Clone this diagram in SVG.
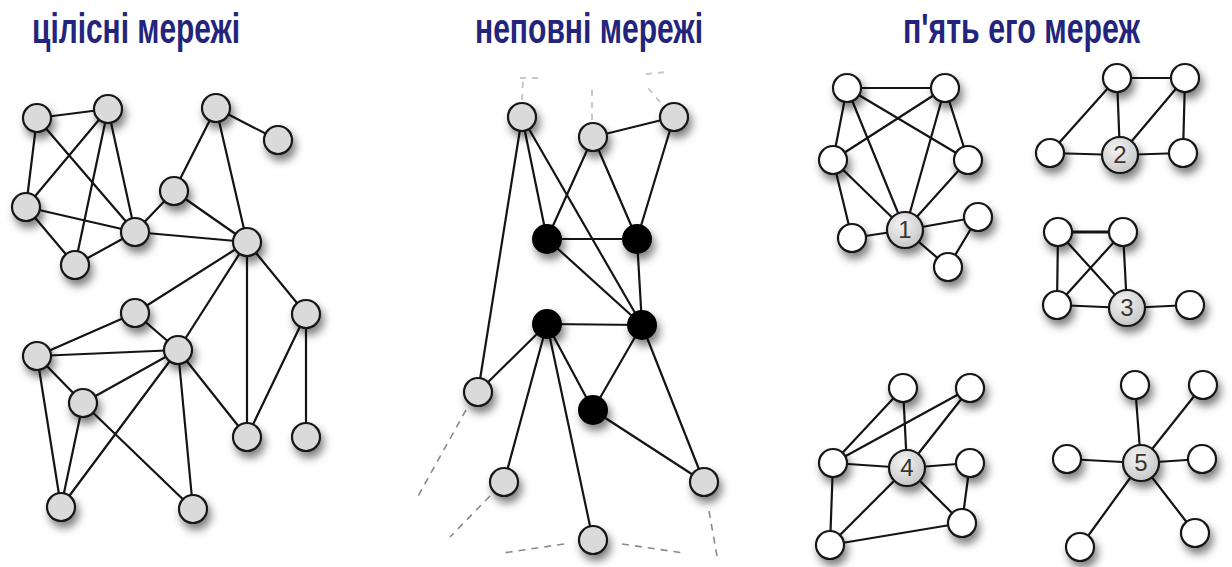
<svg xmlns="http://www.w3.org/2000/svg" width="1232" height="567" viewBox="0 0 1232 567">
<style>
.t{font-family:"Liberation Sans",Arial,sans-serif;font-weight:bold;font-size:42px;fill:#23247c}
.e line{stroke:#141414;stroke-width:2.2;stroke-linecap:round}
.d line{stroke:#8a8a8a;stroke-width:1.6;stroke-dasharray:7 6}
.f line{stroke:#c8c8c8;stroke-width:2;stroke-dasharray:6 6}
.g{fill:#dadada;stroke:#151515;stroke-width:2.2;filter:url(#sh)}
.b{fill:#000;stroke:#000;stroke-width:2;filter:url(#sh)}
.w{fill:#fff;stroke:#151515;stroke-width:2.2;filter:url(#sh)}
.h{fill:url(#hg);stroke:#151515;stroke-width:2.2;filter:url(#sh)}
.n{font-family:"Liberation Sans",Arial,sans-serif;font-size:24px;fill:#3a3530;text-anchor:middle}
</style>
<defs>
<filter id="sh" x="-70%" y="-70%" width="260%" height="260%">
<feDropShadow dx="3" dy="6" stdDeviation="4.5" flood-color="#000" flood-opacity="0.5"/>
</filter>
<radialGradient id="hg" cx="40%" cy="35%" r="70%">
<stop offset="0" stop-color="#f4f4f4"/>
<stop offset="1" stop-color="#c4c4c4"/>
</radialGradient>
</defs>
<rect width="1232" height="567" fill="#fff"/>
<g id="titles">
<text class="t" x="32" y="43" textLength="208" lengthAdjust="spacingAndGlyphs">цілісні мережі</text>
<text class="t" x="475" y="43" textLength="228" lengthAdjust="spacingAndGlyphs">неповні мережі</text>
<text class="t" x="903" y="43" textLength="237" lengthAdjust="spacingAndGlyphs">п'ять его мереж</text>
</g>
<g id="connectors">
<g class="e" id="left-edges">
<line x1="37" y1="118" x2="108" y2="109"/>
<line x1="37" y1="118" x2="26" y2="207"/>
<line x1="37" y1="118" x2="135" y2="232"/>
<line x1="108" y1="109" x2="26" y2="207"/>
<line x1="108" y1="109" x2="75" y2="265"/>
<line x1="108" y1="109" x2="135" y2="232"/>
<line x1="26" y1="207" x2="135" y2="232"/>
<line x1="26" y1="207" x2="75" y2="265"/>
<line x1="75" y1="265" x2="135" y2="232"/>
<line x1="135" y1="232" x2="174" y2="191"/>
<line x1="135" y1="232" x2="247" y2="242"/>
<line x1="174" y1="191" x2="247" y2="242"/>
<line x1="216" y1="108" x2="174" y2="191"/>
<line x1="216" y1="108" x2="247" y2="242"/>
<line x1="216" y1="108" x2="278" y2="140"/>
<line x1="247" y1="242" x2="135" y2="313"/>
<line x1="247" y1="242" x2="178" y2="350"/>
<line x1="247" y1="242" x2="247" y2="437"/>
<line x1="247" y1="242" x2="306" y2="314"/>
<line x1="135" y1="313" x2="37" y2="356"/>
<line x1="135" y1="313" x2="178" y2="350"/>
<line x1="37" y1="356" x2="178" y2="350"/>
<line x1="37" y1="356" x2="83" y2="403"/>
<line x1="37" y1="356" x2="61" y2="507"/>
<line x1="83" y1="403" x2="178" y2="350"/>
<line x1="83" y1="403" x2="61" y2="507"/>
<line x1="83" y1="403" x2="193" y2="509"/>
<line x1="178" y1="350" x2="61" y2="507"/>
<line x1="178" y1="350" x2="193" y2="509"/>
<line x1="178" y1="350" x2="247" y2="437"/>
<line x1="306" y1="314" x2="247" y2="437"/>
<line x1="306" y1="314" x2="306" y2="437"/>
</g>
<g class="f" id="mid-faded">
<line x1="522" y1="100" x2="523" y2="80"/>
<line x1="592" y1="120" x2="592" y2="86"/>
<line x1="660" y1="102" x2="648" y2="88"/>
<line x1="520" y1="78" x2="540" y2="78"/>
<line x1="646" y1="74" x2="668" y2="72"/>
</g>
<g class="d" id="mid-dashed">
<line x1="466" y1="410" x2="417" y2="498"/>
<line x1="490" y1="496" x2="450" y2="537"/>
<line x1="564" y1="544" x2="503" y2="553"/>
<line x1="622" y1="544" x2="684" y2="553"/>
<line x1="709" y1="511" x2="717" y2="556"/>
</g>
<g class="e" id="mid-edges">
<line x1="522" y1="117" x2="478" y2="392"/>
<line x1="522" y1="117" x2="547" y2="239"/>
<line x1="522" y1="117" x2="642" y2="325"/>
<line x1="593" y1="137" x2="547" y2="239"/>
<line x1="593" y1="137" x2="637" y2="239"/>
<line x1="593" y1="137" x2="674" y2="117"/>
<line x1="674" y1="117" x2="637" y2="239"/>
<line x1="547" y1="239" x2="637" y2="239"/>
<line x1="547" y1="239" x2="642" y2="325"/>
<line x1="637" y1="239" x2="642" y2="325"/>
<line x1="547" y1="324" x2="642" y2="325"/>
<line x1="547" y1="324" x2="478" y2="392"/>
<line x1="547" y1="324" x2="504" y2="482"/>
<line x1="547" y1="324" x2="593" y2="540"/>
<line x1="547" y1="324" x2="593" y2="410"/>
<line x1="642" y1="325" x2="593" y2="410"/>
<line x1="642" y1="325" x2="704" y2="482"/>
<line x1="593" y1="410" x2="704" y2="482"/>
</g>
<g class="e" id="right-edges">
<line x1="847" y1="88" x2="945" y2="88"/>
<line x1="847" y1="88" x2="833" y2="160"/>
<line x1="847" y1="88" x2="905" y2="230"/>
<line x1="847" y1="88" x2="968" y2="160"/>
<line x1="945" y1="88" x2="833" y2="160"/>
<line x1="945" y1="88" x2="905" y2="230"/>
<line x1="945" y1="88" x2="968" y2="160"/>
<line x1="833" y1="160" x2="905" y2="230"/>
<line x1="833" y1="160" x2="852" y2="238"/>
<line x1="968" y1="160" x2="905" y2="230"/>
<line x1="852" y1="238" x2="905" y2="230"/>
<line x1="905" y1="230" x2="978" y2="217"/>
<line x1="905" y1="230" x2="948" y2="267"/>
<line x1="978" y1="217" x2="948" y2="267"/>
<line x1="1117" y1="78" x2="1185" y2="78"/>
<line x1="1117" y1="78" x2="1050" y2="153"/>
<line x1="1117" y1="78" x2="1120" y2="155"/>
<line x1="1185" y1="78" x2="1120" y2="155"/>
<line x1="1185" y1="78" x2="1183" y2="153"/>
<line x1="1050" y1="153" x2="1120" y2="155"/>
<line x1="1120" y1="155" x2="1183" y2="153"/>
<line x1="1058" y1="232" x2="1123" y2="232" style="stroke-width:3"/>
<line x1="1058" y1="232" x2="1057" y2="305"/>
<line x1="1058" y1="232" x2="1127" y2="308"/>
<line x1="1123" y1="232" x2="1057" y2="305"/>
<line x1="1123" y1="232" x2="1127" y2="308"/>
<line x1="1057" y1="305" x2="1127" y2="308"/>
<line x1="1127" y1="308" x2="1190" y2="305"/>
<line x1="903" y1="388" x2="833" y2="463"/>
<line x1="903" y1="388" x2="907" y2="468"/>
<line x1="970" y1="388" x2="833" y2="463"/>
<line x1="970" y1="388" x2="907" y2="468"/>
<line x1="833" y1="463" x2="907" y2="468"/>
<line x1="833" y1="463" x2="830" y2="545"/>
<line x1="907" y1="468" x2="970" y2="463"/>
<line x1="907" y1="468" x2="962" y2="523"/>
<line x1="907" y1="468" x2="830" y2="545"/>
<line x1="970" y1="463" x2="962" y2="523"/>
<line x1="962" y1="523" x2="830" y2="545"/>
<line x1="1141" y1="463" x2="1135" y2="385"/>
<line x1="1141" y1="463" x2="1203" y2="385"/>
<line x1="1141" y1="463" x2="1067" y2="459"/>
<line x1="1141" y1="463" x2="1202" y2="459"/>
<line x1="1141" y1="463" x2="1080" y2="547"/>
<line x1="1141" y1="463" x2="1195" y2="533"/>
</g>
</g>
<g id="left-nodes">
<g id="L1"><circle class="g" cx="37" cy="118" r="14"/></g>
<g id="L2"><circle class="g" cx="108" cy="109" r="14"/></g>
<g id="L3"><circle class="g" cx="216" cy="108" r="14"/></g>
<g id="L4"><circle class="g" cx="278" cy="140" r="14"/></g>
<g id="L5"><circle class="g" cx="26" cy="207" r="14"/></g>
<g id="L6"><circle class="g" cx="174" cy="191" r="14"/></g>
<g id="L7"><circle class="g" cx="135" cy="232" r="14"/></g>
<g id="L8"><circle class="g" cx="247" cy="242" r="14"/></g>
<g id="L9"><circle class="g" cx="75" cy="265" r="14"/></g>
<g id="L10"><circle class="g" cx="135" cy="313" r="14"/></g>
<g id="L11"><circle class="g" cx="306" cy="314" r="14"/></g>
<g id="L12"><circle class="g" cx="37" cy="356" r="14"/></g>
<g id="L13"><circle class="g" cx="178" cy="350" r="14"/></g>
<g id="L14"><circle class="g" cx="83" cy="403" r="14"/></g>
<g id="L15"><circle class="g" cx="247" cy="437" r="14"/></g>
<g id="L16"><circle class="g" cx="306" cy="437" r="14"/></g>
<g id="L17"><circle class="g" cx="61" cy="507" r="14"/></g>
<g id="L18"><circle class="g" cx="193" cy="509" r="14"/></g>
</g>
<g id="mid-nodes">
<g id="M1"><circle class="g" cx="522" cy="117" r="14"/></g>
<g id="M2"><circle class="g" cx="593" cy="137" r="14"/></g>
<g id="M3"><circle class="g" cx="674" cy="117" r="14"/></g>
<g id="M4"><circle class="b" cx="547" cy="239" r="14"/></g>
<g id="M5"><circle class="b" cx="637" cy="239" r="14"/></g>
<g id="M6"><circle class="b" cx="547" cy="324" r="14"/></g>
<g id="M7"><circle class="b" cx="642" cy="325" r="14"/></g>
<g id="M8"><circle class="g" cx="478" cy="392" r="14"/></g>
<g id="M9"><circle class="b" cx="593" cy="410" r="14"/></g>
<g id="M10"><circle class="g" cx="504" cy="482" r="14"/></g>
<g id="M11"><circle class="g" cx="704" cy="482" r="14"/></g>
<g id="M12"><circle class="g" cx="593" cy="540" r="14"/></g>
</g>
<g id="right-nodes">
<g id="R1a"><circle class="w" cx="847" cy="88" r="14"/></g>
<g id="R1b"><circle class="w" cx="945" cy="88" r="14"/></g>
<g id="R1c"><circle class="w" cx="833" cy="160" r="14"/></g>
<g id="R1d"><circle class="w" cx="968" cy="160" r="14"/></g>
<g id="R1e"><circle class="w" cx="852" cy="238" r="14"/></g>
<g id="R1f"><circle class="w" cx="978" cy="217" r="14"/></g>
<g id="R1g"><circle class="w" cx="948" cy="267" r="14"/></g>
<g id="hub1"><circle class="h" cx="905" cy="230" r="18"/><text class="n" x="905" y="238">1</text></g>
<g id="R2a"><circle class="w" cx="1117" cy="78" r="14"/></g>
<g id="R2b"><circle class="w" cx="1185" cy="78" r="14"/></g>
<g id="R2c"><circle class="w" cx="1050" cy="153" r="14"/></g>
<g id="R2d"><circle class="w" cx="1183" cy="153" r="14"/></g>
<g id="hub2"><circle class="h" cx="1120" cy="155" r="18"/><text class="n" x="1120" y="163">2</text></g>
<g id="R3a"><circle class="w" cx="1058" cy="232" r="14"/></g>
<g id="R3b"><circle class="w" cx="1123" cy="232" r="14"/></g>
<g id="R3c"><circle class="w" cx="1057" cy="305" r="14"/></g>
<g id="R3d"><circle class="w" cx="1190" cy="305" r="14"/></g>
<g id="hub3"><circle class="h" cx="1127" cy="308" r="18"/><text class="n" x="1127" y="316">3</text></g>
<g id="R4a"><circle class="w" cx="903" cy="388" r="14"/></g>
<g id="R4b"><circle class="w" cx="970" cy="388" r="14"/></g>
<g id="R4c"><circle class="w" cx="833" cy="463" r="14"/></g>
<g id="R4d"><circle class="w" cx="970" cy="463" r="14"/></g>
<g id="R4e"><circle class="w" cx="962" cy="523" r="14"/></g>
<g id="R4f"><circle class="w" cx="830" cy="545" r="14"/></g>
<g id="hub4"><circle class="h" cx="907" cy="468" r="18"/><text class="n" x="907" y="476">4</text></g>
<g id="R5a"><circle class="w" cx="1135" cy="385" r="14"/></g>
<g id="R5b"><circle class="w" cx="1203" cy="385" r="14"/></g>
<g id="R5c"><circle class="w" cx="1067" cy="459" r="14"/></g>
<g id="R5d"><circle class="w" cx="1202" cy="459" r="14"/></g>
<g id="R5e"><circle class="w" cx="1080" cy="547" r="14"/></g>
<g id="R5f"><circle class="w" cx="1195" cy="533" r="14"/></g>
<g id="hub5"><circle class="h" cx="1141" cy="463" r="18"/><text class="n" x="1141" y="471">5</text></g>
</g>
</svg>
